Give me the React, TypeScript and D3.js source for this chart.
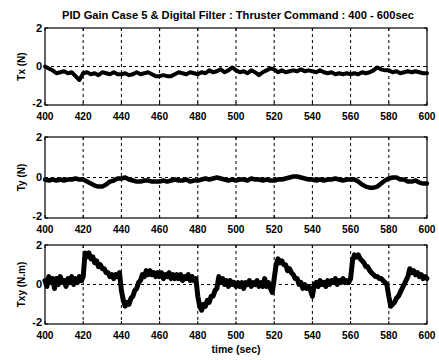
import React from "react";
import * as d3 from "d3";

const title = "PID Gain Case 5 & Digital Filter : Thruster Command : 400 -  600sec";
const xLabel = "time (sec)";
const yLabels = ["Tx (N)", "Ty (N)", "Txy (N.m)"];
const xTicks = [400, 420, 440, 460, 480, 500, 520, 540, 560, 580, 600];
const yTicks = [-2, 0, 2];

// Tx, sampled every 2 s from 400 to 600
const txValues = [
  0.0, -0.1, -0.2, -0.35, -0.3, -0.25, -0.35, -0.3, -0.5, -0.7,
  -0.35, -0.3, -0.4, -0.35, -0.45, -0.3, -0.35, -0.4, -0.3, -0.4,
  -0.4, -0.35, -0.45, -0.4, -0.3, -0.4, -0.35, -0.3, -0.4, -0.5,
  -0.5, -0.45, -0.5, -0.5, -0.4, -0.3, -0.35, -0.4, -0.3, -0.35,
  -0.4, -0.3, -0.35, -0.2, -0.3, -0.25, -0.15, -0.3, -0.2, -0.05,
  -0.2, -0.3, -0.25, -0.35, -0.2, -0.3, -0.45, -0.3, -0.2, -0.1,
  -0.15, -0.3, -0.2, -0.3, -0.25, -0.2, -0.25, -0.15, -0.25, -0.2,
  -0.25, -0.3, -0.2, -0.3, -0.35, -0.3, -0.4, -0.35, -0.4, -0.35,
  -0.4, -0.35, -0.4, -0.3, -0.35, -0.3, -0.2, -0.05, -0.15, -0.2,
  -0.2, -0.3, -0.25, -0.35, -0.3, -0.25, -0.3, -0.25, -0.3, -0.35,
  -0.35,
];

// Ty, sampled every 2 s from 400 to 600
const tyValues = [
  -0.1, -0.15, -0.1, -0.15, -0.1, -0.15, -0.1, -0.1, -0.05, -0.1,
  -0.1, -0.2, -0.3, -0.4, -0.45, -0.45, -0.35, -0.2, -0.15, -0.05,
  -0.05, 0.0, -0.1, -0.15, -0.2, -0.2, -0.15, -0.15, -0.2, -0.2,
  -0.2, -0.15, -0.2, -0.15, -0.1, -0.15, -0.15, -0.1, -0.2, -0.15,
  -0.15, -0.1, -0.05, -0.1, -0.05, 0.0, -0.05, -0.1, -0.15, -0.1,
  -0.15, -0.1, -0.1, -0.15, -0.05, -0.1, -0.1, -0.15, -0.1, -0.15,
  -0.15, -0.1, -0.1, -0.05, 0.0, 0.05, 0.05, 0.0, -0.05, -0.1,
  -0.1, -0.15, -0.1, -0.15, -0.1, -0.1, -0.05, -0.1, -0.15, -0.1,
  -0.1, -0.1, -0.2, -0.35, -0.45, -0.5, -0.5, -0.45, -0.3, -0.15,
  -0.05, 0.0, 0.0, -0.1, -0.1, -0.2, -0.2, -0.15, -0.25, -0.3,
  -0.3,
];

// Txy, sampled every 1 s from 400 to 600
const txyValues = [
  0.2, -0.1, 0.4, 0.1, 0.3, -0.2, 0.3, 0.0, 0.4, 0.1, 0.2, -0.1, 0.3, 0.1, 0.4, 0.0, 0.3, 0.1, 0.4, 0.2,
  0.4, 1.6, 1.4, 1.6, 1.3, 1.4, 1.1, 1.2, 0.9, 1.0, 0.8, 0.8, 0.6, 0.6, 0.4, 0.5, 0.3, 0.5, 0.4, 0.6,
  -0.3, -0.8, -1.1, -0.9, -1.0, -0.7, -0.6, -0.3, -0.2, 0.1, 0.2, 0.5, 0.4, 0.7, 0.5, 0.7, 0.5, 0.6, 0.4, 0.6,
  0.4, 0.6, 0.3, 0.5, 0.4, 0.6, 0.3, 0.5, 0.3, 0.5, 0.3, 0.5, 0.2, 0.4, 0.3, 0.5, 0.2, 0.4, 0.2, 0.3,
  -0.6, -1.1, -1.3, -1.0, -1.1, -0.8, -0.9, -0.6, -0.6, -0.3, -0.2, 0.4, 0.1, 0.3, 0.0, 0.2, -0.1, 0.2, 0.0, 0.1,
  -0.1, 0.1, -0.1, 0.1, -0.2, 0.1, 0.0, 0.2, -0.1, 0.1, 0.0, 0.2, -0.1, 0.1, -0.1, 0.3, -0.1, 0.1, -0.2, -0.4,
  0.3, 1.0, 1.3, 1.1, 1.2, 1.0, 1.0, 0.7, 0.8, 0.6, 0.5, 0.3, 0.3, 0.0, 0.1, -0.2, 0.0, -0.2, -0.1, -0.3,
  -0.6, 0.0, 0.1, -0.1, 0.2, 0.0, 0.1, -0.1, 0.2, 0.0, 0.2, 0.1, 0.3, 0.0, 0.2, 0.1, 0.3, 0.1, 0.2, 0.1,
  0.3, 1.2, 1.5, 1.4, 1.5, 1.3, 1.2, 1.1, 0.9, 0.9, 0.7, 0.6, 0.5, 0.4, 0.4, 0.3, 0.3, 0.2, 0.1, 0.0,
  -0.6, -1.1, -1.0, -0.9, -0.7, -0.6, -0.4, -0.2, 0.0, 0.2, 0.4, 0.8, 0.6, 0.7, 0.5, 0.6, 0.4, 0.5, 0.3, 0.4,
  0.3,
];

const FONT = "'Liberation Sans', Arial, sans-serif";

type Panel = { values: number[]; step: number; top: number; bottom: number; label: string; sw: number };

export default function App() {
  const W = 439, H = 360;
  const left = 45, right = 427;
  const x = d3.scaleLinear().domain([400, 600]).range([left, right]);

  const panels: Panel[] = [
    { values: txValues, step: 2, top: 28, bottom: 105, label: yLabels[0], sw: 4 },
    { values: tyValues, step: 2, top: 137, bottom: 218, label: yLabels[1], sw: 4.5 },
    { values: txyValues, step: 1, top: 245, bottom: 324, label: yLabels[2], sw: 5 },
  ];

  return (
    <svg width={W} height={H} style={{ position: "absolute", left: 0, top: 0, background: "#fff" }}>
      <text x={238} y={19} textAnchor="middle" fontFamily={FONT} fontSize={10.5} fontWeight="bold"
        textLength={352} lengthAdjust="spacingAndGlyphs">{title}</text>
      {panels.map((p, i) => {
        const y = d3.scaleLinear().domain([-2, 2]).range([p.bottom, p.top]);
        const line = d3.line<number>()
          .x((_, j) => x(400 + j * p.step))
          .y((v) => y(v));
        const mid = (p.top + p.bottom) / 2;
        return (
          <g key={i}>
            {xTicks.slice(1, -1).map((t) => (
              <line key={t} x1={x(t)} x2={x(t)} y1={p.top} y2={p.bottom}
                stroke="#000" strokeWidth={1} strokeDasharray="3,3" />
            ))}
            <line x1={left} x2={right} y1={y(0)} y2={y(0)} stroke="#000" strokeWidth={1} strokeDasharray="3,3" />
            <path d={line(p.values) || ""} fill="none" stroke="#000" strokeWidth={p.sw}
              strokeLinejoin="round" strokeLinecap="round" />
            <rect x={left} y={p.top} width={right - left} height={p.bottom - p.top}
              fill="none" stroke="#000" strokeWidth={1.2} />
            {xTicks.map((t) => (
              <g key={t}>
                <line x1={x(t)} x2={x(t)} y1={p.bottom} y2={p.bottom - 3} stroke="#000" />
                <line x1={x(t)} x2={x(t)} y1={p.top} y2={p.top + 3} stroke="#000" />
                <text x={x(t)} y={p.bottom + 15} textAnchor="middle" fontFamily={FONT}
                  fontSize={11.5} fontWeight="bold" textLength={17} lengthAdjust="spacingAndGlyphs">{t}</text>
              </g>
            ))}
            {yTicks.map((t) => (
              <g key={t}>
                <line x1={left} x2={left + 3} y1={y(t)} y2={y(t)} stroke="#000" />
                <line x1={right} x2={right - 3} y1={y(t)} y2={y(t)} stroke="#000" />
                <text x={42} y={y(t)} dy={t === -2 ? "0.15em" : "0.36em"} textAnchor="end" fontFamily={FONT}
                  fontSize={11} fontWeight="bold">{t}</text>
              </g>
            ))}
            <text transform={`translate(21,${mid}) rotate(-90)`} textAnchor="middle" dy="0.35em"
              fontFamily={FONT} fontSize={10} fontWeight="bold">{p.label}</text>
          </g>
        );
      })}
      <text x={236} y={353} textAnchor="middle" fontFamily={FONT} fontSize={10.5} fontWeight="bold">{xLabel}</text>
    </svg>
  );
}
